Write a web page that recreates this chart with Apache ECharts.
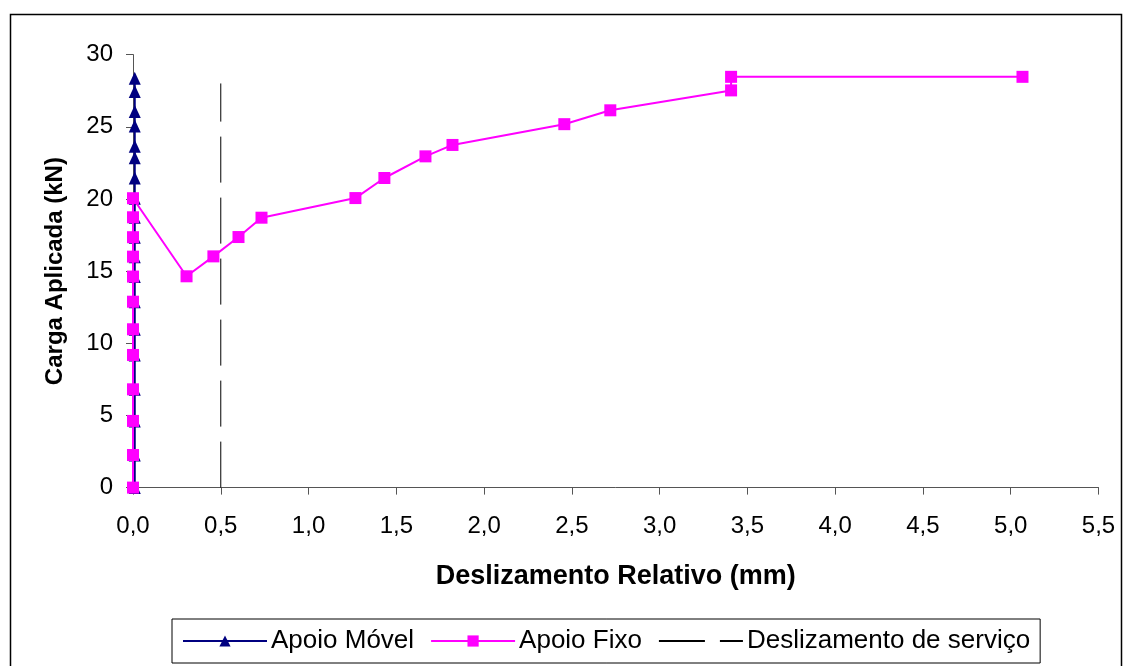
<!DOCTYPE html>
<html>
<head>
<meta charset="utf-8">
<script src="https://cdn.jsdelivr.net/npm/echarts@6/dist/echarts.min.js"></script>
<style>
html,body{margin:0;padding:0;background:#fff;}
#c{width:1128px;height:666px;}
</style>
</head>
<body>
<div id="c"></div>
<script>
// Data
const movelX = [0.01,0.01,0.01,0.01,0.01,0.01,0.01,0.01,0.01,0.01,0.01,0.01,0.01,0.01,0.01,0.01,0.01,0.01,0.01];
const movelY = [0,2.26,4.62,6.81,9.19,10.97,12.88,14.62,16.0,17.35,18.73,20.05,21.45,22.85,23.65,25.05,26.05,27.45,28.36];

const fixoX = [0,0,0,0,0,0,0,0,0,0,0,0,0.305,0.458,0.601,0.732,1.267,1.432,1.666,1.82,2.457,2.719,3.407,3.407,5.067];
const fixoY = [0,2.26,4.62,6.81,9.19,10.97,12.88,14.62,16.0,17.35,18.73,20.05,14.64,16.02,17.36,18.7,20.06,21.45,22.95,23.74,25.18,26.14,27.52,28.46,28.46];

const servX = [0.5,0.5];
const servY = [0,28.0];

const seriesNames = ['Apoio Móvel','Apoio Fixo','Deslizamento de serviço'];
const xTitle = 'Deslizamento Relativo (mm)';
const yTitle = 'Carga Aplicada (kN)';

const zip = (xs, ys) => xs.map((x, i) => [x, ys[i]]);

const chart = echarts.init(document.getElementById('c'), null, {renderer:'canvas'});
const FONT = '"Liberation Sans", Arial, sans-serif';

chart.setOption({
  animation:false,
  backgroundColor:'#fff',
  textStyle:{fontFamily:FONT},
  graphic:[{
    type:'rect', left:8, top:12, z:-10,
    shape:{x:0,y:0,width:1111,height:700},
    style:{fill:'none',stroke:'#000',lineWidth:1.5}
  }],
  grid:{left:133,right:29.5,top:54.6,bottom:178.4,containLabel:false},
  xAxis:{
    type:'value', min:0, max:5.5, interval:0.5,
    name:xTitle, nameLocation:'middle', nameGap:75,
    nameTextStyle:{fontFamily:FONT,fontSize:27,fontWeight:'bold',color:'#000'},
    axisLine:{show:true,onZero:false,lineStyle:{color:'#555',width:1}},
    axisTick:{show:true,inside:false,length:7,lineStyle:{color:'#555'}},
    axisLabel:{fontFamily:FONT,fontSize:24,color:'#000',margin:27,
      formatter:v=>v.toFixed(1).replace('.',',')},
    splitLine:{show:false}
  },
  yAxis:{
    type:'value', min:0, max:30, interval:5,
    name:yTitle, nameLocation:'middle', nameGap:66, nameRotate:90,
    nameTextStyle:{fontFamily:FONT,fontSize:24,fontWeight:'bold',color:'#000'},
    axisLine:{show:true,onZero:false,lineStyle:{color:'#555',width:1}},
    axisTick:{show:true,inside:false,length:7,lineStyle:{color:'#555'}},
    axisLabel:{fontFamily:FONT,fontSize:24,color:'#000',margin:20},
    splitLine:{show:false}
  },
  legend:{
    left:172, top:619,
    data:[
      {name:seriesNames[0]},
      {name:seriesNames[1]},
      {name:seriesNames[2], itemStyle:{opacity:0}}
    ],
    backgroundColor:'#fff',
    borderColor:'#000', borderWidth:1, borderRadius:0,
    padding:[9,10,9,10],
    itemGap:16, itemWidth:84, itemHeight:14,
    textStyle:{fontFamily:FONT,fontSize:26,color:'#000',padding:[0,0,0,-1]}
  },
  series:[
    {
      name:seriesNames[2], type:'line', data:zip(servX,servY),
      symbol:'none', z:1,
      lineStyle:{color:'#000',width:1,type:[46,15]},
      itemStyle:{color:'#000'}
    },
    {
      name:seriesNames[0], type:'line', data:zip(movelX,movelY),
      symbol:'triangle', symbolSize:[12,13], z:2,
      lineStyle:{color:'#000080',width:2},
      itemStyle:{color:'#000080'}
    },
    {
      name:seriesNames[1], type:'line', data:zip(fixoX,fixoY),
      symbol:'rect', symbolSize:12, z:3,
      lineStyle:{color:'#FF00FF',width:2},
      itemStyle:{color:'#FF00FF'}
    }
  ]
});
</script>
</body>
</html>
